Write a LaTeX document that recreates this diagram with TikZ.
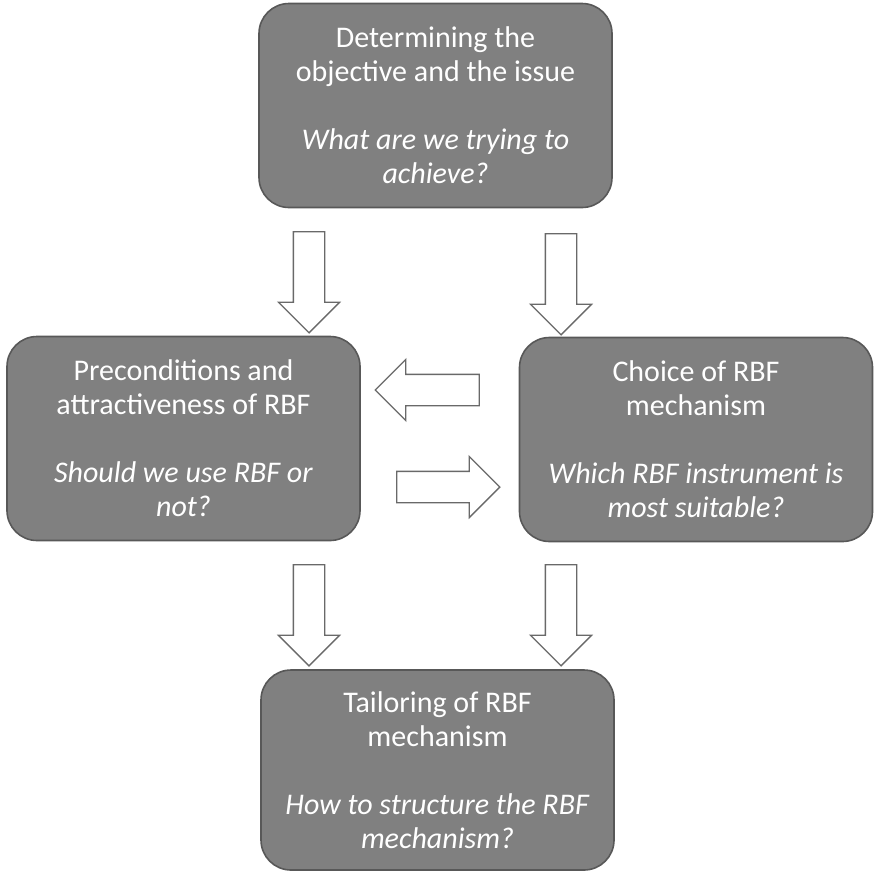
\documentclass[tikz,border=0pt]{standalone}
\usepackage{fontspec}
\setmainfont{Carlito}
\usetikzlibrary{shapes.arrows}
\definecolor{boxfill}{RGB}{128,128,128}
\definecolor{boxline}{RGB}{88,88,88}
\definecolor{arrowline}{RGB}{105,105,105}
\begin{document}
\begin{tikzpicture}[x=1pt,y=-1pt,
  stagebox/.style={rectangle, rounded corners=30pt, draw=boxline, line width=1.6pt,
    fill=boxfill, text=white, align=center, minimum width=353pt, minimum height=204pt,
    inner sep=0pt, font=\fontsize{30}{34}\selectfont},
  flowarrow/.style={single arrow, draw=arrowline, line width=1.3pt, fill=white,
    inner xsep=0pt, inner ysep=15pt, single arrow head extend=15pt,
    single arrow tip angle=90, minimum width=0pt}
]
\useasboundingbox[fill=white] (0,0) rectangle (874,873);

\node[stagebox] (goal) at (435.5,105.5)
  {Determining the\\objective and the issue\\[34pt]\textit{What are we trying to}\\\textit{achieve?}};
\node[stagebox] (precond) at (183.5,438.5)
  {Preconditions and\\attractiveness of RBF\\[34pt]\textit{Should we use RBF or}\\\textit{not?}};
\node[stagebox] (choice) at (696,439.5)
  {Choice of RBF\\mechanism\\[34pt]\textit{Which RBF instrument is}\\\textit{most suitable?}};
\node[stagebox, minimum height=200pt] (tailor) at (437.5,770)
  {Tailoring of RBF\\mechanism\\[34pt]\textit{How to structure the RBF}\\\textit{mechanism?}};

% block arrows between the stages
\node[flowarrow, rotate=-90, minimum height=101pt] (g2p) at (309,274.5) {};
\node[flowarrow, rotate=-90, minimum height=101pt] (g2c) at (561,276.5) {};
\node[flowarrow, rotate=180, minimum height=104pt] (c2p) at (435,390) {};
\node[flowarrow, minimum height=103pt] (p2c) at (440.5,487) {};
\node[flowarrow, rotate=-90, minimum height=101pt] (p2t) at (309,607.5) {};
\node[flowarrow, rotate=-90, minimum height=101pt] (c2t) at (561,607.5) {};
\end{tikzpicture}
\end{document}
